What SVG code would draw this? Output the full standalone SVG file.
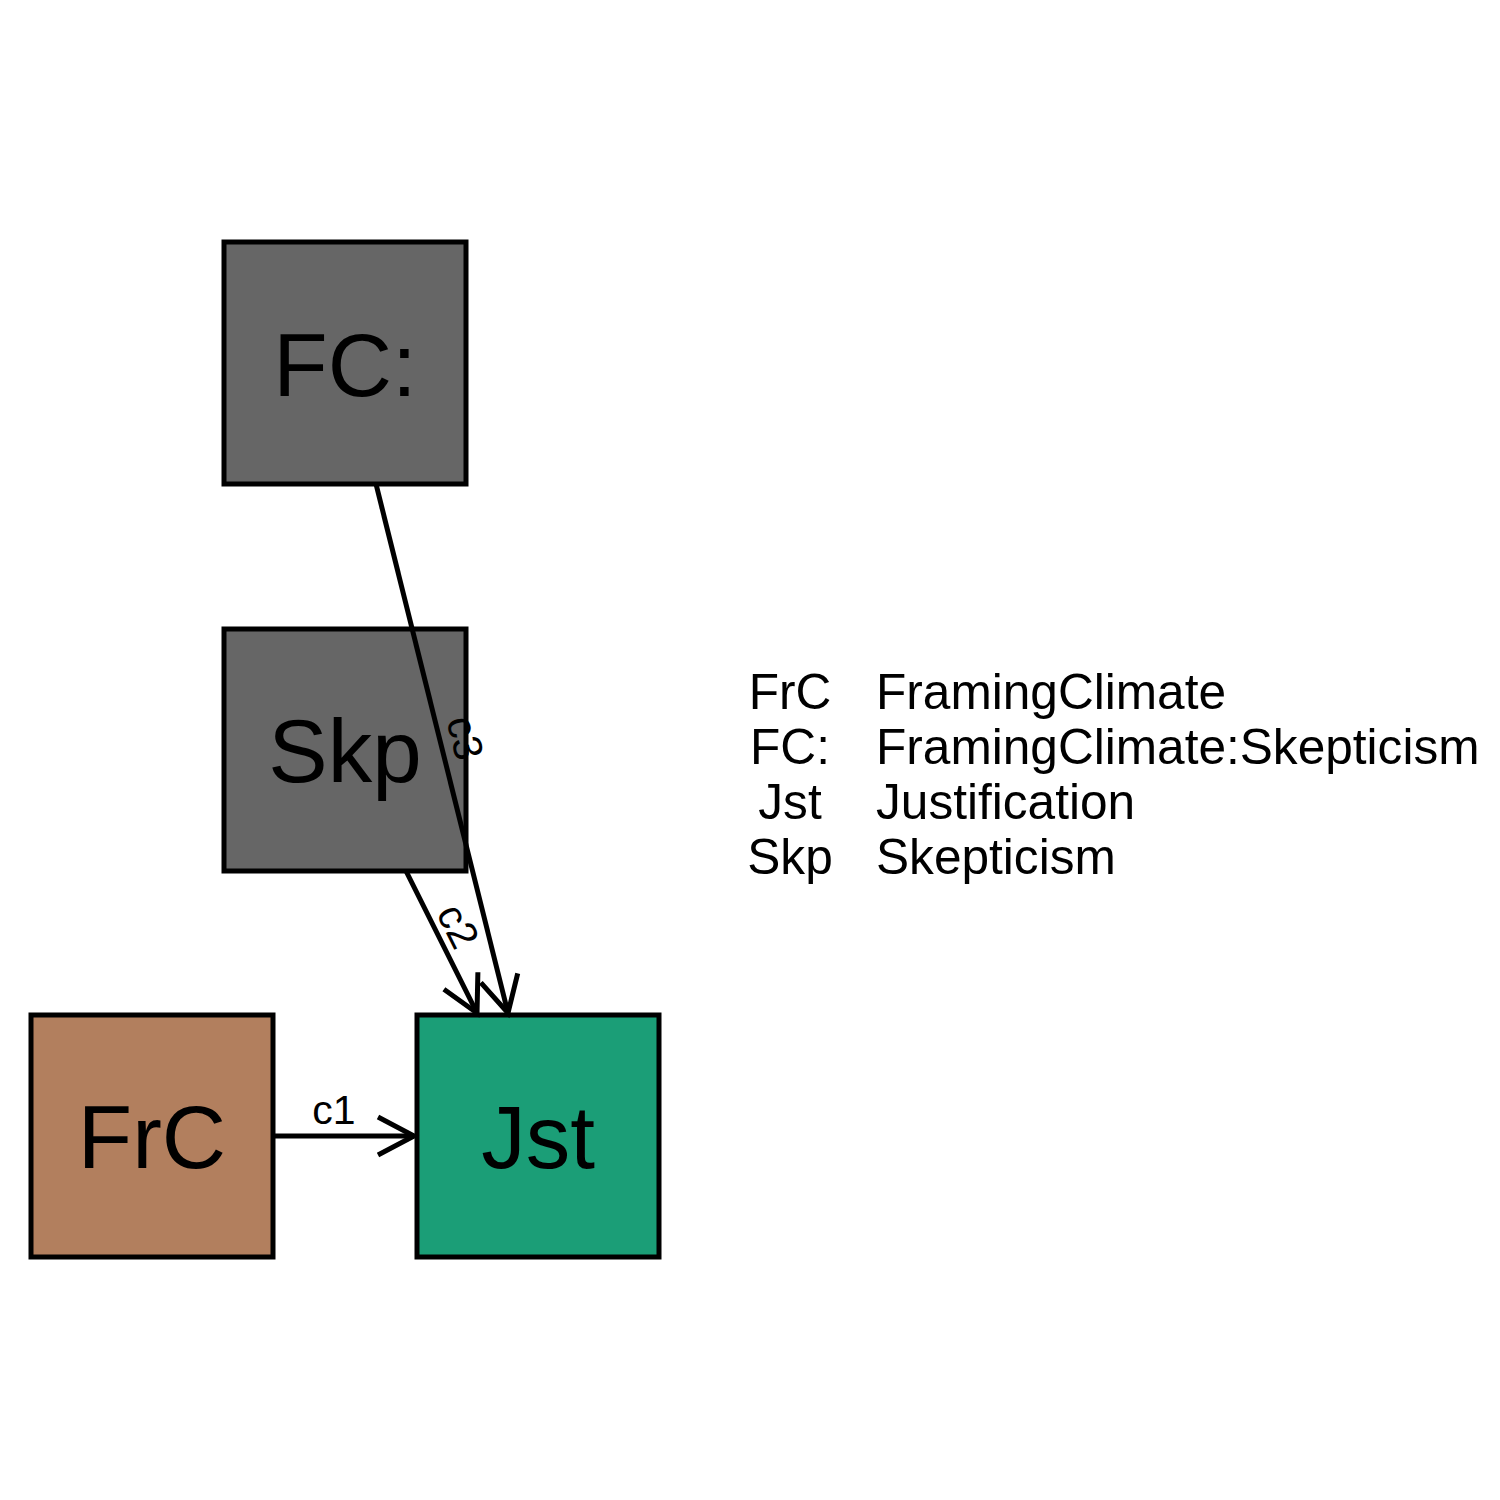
<svg xmlns="http://www.w3.org/2000/svg" width="1500" height="1500" viewBox="0 0 1500 1500">
<style>
.node rect{stroke:#000;stroke-width:5}
.nl{font-family:"Liberation Sans",Arial,sans-serif;font-size:89px;text-anchor:middle;fill:#000}
.edge{stroke:#000;stroke-width:5;fill:none}
.el{font-family:"Liberation Sans",Arial,sans-serif;font-size:41px;text-anchor:middle;fill:#000}
.lg{font-family:"Liberation Sans",Arial,sans-serif;font-size:49.6px;fill:#000}
</style>
<defs>
<marker id="arr" markerUnits="userSpaceOnUse" markerWidth="50" markerHeight="50" refX="38" refY="21" orient="auto" viewBox="0 0 50 42">
<path d="M2,2 L38,21 L2,40" fill="none" stroke="#000" stroke-width="5"/>
</marker>
</defs>
<rect width="1500" height="1500" fill="#fff"/>
<g id="node-FC" class="node">
<rect x="224" y="242" width="242" height="242" fill="#666666"/>
<text class="nl" x="345" y="396">FC:</text>
</g>
<g id="node-Skp" class="node">
<rect x="224" y="629" width="242" height="242" fill="#666666"/>
<text class="nl" x="345" y="782">Skp</text>
</g>
<g id="node-FrC" class="node">
<rect x="31" y="1015" width="242" height="242" fill="#B27F5E"/>
<text class="nl" x="152" y="1168">FrC</text>
</g>
<g id="node-Jst" class="node">
<rect x="417" y="1015" width="242" height="242" fill="#1B9E77"/>
<text class="nl" x="538" y="1168">Jst</text>
</g>
<g id="connectors">
<line class="edge" x1="273" y1="1136" x2="414" y2="1136" marker-end="url(#arr)"/>
<line class="edge" x1="406" y1="871" x2="477" y2="1013" marker-end="url(#arr)"/>
<line class="edge" x1="376" y1="484" x2="508" y2="1013" marker-end="url(#arr)"/>
<text class="el" x="334" y="1124">c1</text>
<text class="el" transform="translate(458,926) rotate(63.4)" y="14">c2</text>
<text class="el" transform="translate(465,738) rotate(76)" y="14">c3</text>
</g>
<g id="legend">
<text class="lg" x="790" y="709" text-anchor="middle">FrC</text>
<text class="lg" x="876" y="709">FramingClimate</text>
<text class="lg" x="790" y="764" text-anchor="middle">FC:</text>
<text class="lg" x="876" y="764">FramingClimate:Skepticism</text>
<text class="lg" x="790" y="819" text-anchor="middle">Jst</text>
<text class="lg" x="876" y="819">Justification</text>
<text class="lg" x="790" y="874" text-anchor="middle">Skp</text>
<text class="lg" x="876" y="874">Skepticism</text>
</g>
</svg>
